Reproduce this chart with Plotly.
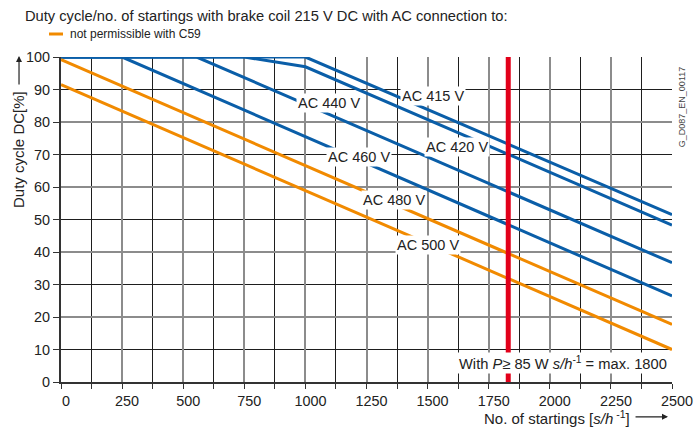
import plotly.graph_objects as go

# ---- data ----
x_ac415 = [0, 1000, 2500]
y_ac415 = [100, 100, 51.5]
x_ac420 = [0, 750, 1000, 2500]
y_ac420 = [100, 100, 97, 48.3]
x_ac440 = [0, 555, 2500]
y_ac440 = [100, 100, 36.7]
x_ac460 = [0, 250, 2500]
y_ac460 = [100, 100, 26.5]
x_ac480 = [0, 2500]
y_ac480 = [99.2, 17.7]
x_ac500 = [0, 2500]
y_ac500 = [91.5, 10]
limit_x = [1830, 1830]
limit_y = [0, 100]

curve_labels = ["AC 415 V", "AC 440 V", "AC 420 V", "AC 460 V", "AC 480 V", "AC 500 V"]
label_x = [1522, 1097, 1620, 1221, 1363, 1502]
label_y = [88.1, 85.8, 72.4, 69.3, 56.0, 42.2]

x_ticks = [0, 250, 500, 750, 1000, 1250, 1500, 1750, 2000, 2250, 2500]
y_ticks = [0, 10, 20, 30, 40, 50, 60, 70, 80, 90, 100]

BLUE = "#0a5ea8"
ORANGE = "#f18a00"
RED = "#e2001a"
FONT = "Arial, Liberation Sans, sans-serif"
TXT = "#222222"

fig = go.Figure()
series = [
    (x_ac415, y_ac415, BLUE), (x_ac420, y_ac420, BLUE), (x_ac440, y_ac440, BLUE),
    (x_ac460, y_ac460, BLUE), (x_ac480, y_ac480, ORANGE), (x_ac500, y_ac500, ORANGE),
]
for xs, ys, c in series:
    fig.add_trace(go.Scatter(x=xs, y=ys, mode="lines", line=dict(color=c, width=3),
                             showlegend=False, hoverinfo="skip"))
fig.add_trace(go.Scatter(x=limit_x, y=limit_y, mode="lines", line=dict(color=RED, width=5),
                         showlegend=False, hoverinfo="skip", yaxis="y2"))

for t, lx, ly in zip(curve_labels, label_x, label_y):
    fig.add_annotation(x=lx, y=ly, text=t, showarrow=False, bgcolor="white",
                       font=dict(family=FONT, size=14.5, color=TXT), borderpad=1)

fig.add_annotation(x=2054, y=5.9, text="With <i>P</i>≥ 85 W <i>s/h</i><sup>-1</sup> = max. 1800",
                   showarrow=False, bgcolor="white", borderpad=1,
                   font=dict(family=FONT, size=14.7, color=TXT))

LEG_Y = 1 + 23 / 325
# title & legend
fig.add_annotation(xref="paper", yref="paper", x=-0.063, y=1 + 41 / 325,
                   xanchor="left", yanchor="middle", showarrow=False,
                   text="Duty cycle/no. of startings with brake coil 215 V DC with AC connection to:",
                   font=dict(family=FONT, size=14.7, color=TXT))
fig.add_shape(type="line", xref="paper", yref="paper", x0=-0.0196, x1=0.0033, y0=LEG_Y, y1=LEG_Y,
              line=dict(color=ORANGE, width=3))
fig.add_annotation(xref="paper", yref="paper", x=0.0115, y=LEG_Y,
                   xanchor="left", yanchor="middle", showarrow=False,
                   text="not permissible with C59", font=dict(family=FONT, size=12, color=TXT))

# axis titles
fig.add_annotation(xref="paper", yref="paper", x=-0.0687, y=0.714, textangle=-90,
                   xanchor="center", yanchor="middle", showarrow=False,
                   text="Duty cycle DC[%]", font=dict(family=FONT, size=15, color=TXT))
fig.add_annotation(xref="paper", yref="paper", x=-0.0687, y=1.003, ax=0, ay=30,
                   showarrow=True, arrowhead=2, arrowsize=1, arrowwidth=1.2, arrowcolor=TXT, text="")
fig.add_annotation(xref="paper", yref="paper", x=0.935, y=-0.11,
                   xanchor="right", yanchor="middle", showarrow=False,
                   text="No. of startings [<i>s/h</i><sup> -1</sup>]",
                   font=dict(family=FONT, size=15, color=TXT))
fig.add_annotation(xref="paper", yref="paper", x=0.9935, y=-0.107, ax=-34, ay=0,
                   showarrow=True, arrowhead=2, arrowsize=1, arrowwidth=1.2, arrowcolor=TXT, text="")
fig.add_annotation(xref="paper", yref="paper", x=1.004, y=0.847, textangle=-90,
                   xanchor="left", yanchor="middle", showarrow=False,
                   text="G_D087_EN_00117", font=dict(family=FONT, size=9, color="#444"))

fig.update_layout(
    width=695, height=427, autosize=False,
    margin=dict(l=61, r=23, t=57, b=45, pad=0, autoexpand=False),
    paper_bgcolor="white", plot_bgcolor="white",
    font=dict(family=FONT, size=14, color=TXT),
    xaxis=dict(range=[0, 2500], tickvals=x_ticks, ticktext=[str(v) for v in x_ticks],
               ticklabelshift=5, automargin=False,
               showgrid=True, gridcolor="#8c8c8c", gridwidth=2,
               minor=dict(dtick=125, tick0=0, showgrid=True, gridcolor="#1e1e1e", gridwidth=1.2,
                          ticks="outside", ticklen=5, tickcolor="#333"),
               ticks="outside", ticklen=5, tickcolor="#333",
               showline=True, linecolor="#333", linewidth=2, zeroline=False,
               tickfont=dict(family=FONT, size=14.4, color=TXT)),
    yaxis=dict(range=[0, 100], dtick=20, tick0=0, showticklabels=False, automargin=False,
               showgrid=True, gridcolor="#8c8c8c", gridwidth=2,
               minor=dict(dtick=10, tick0=0, showgrid=True, gridcolor="#1e1e1e", gridwidth=1.2),
               zeroline=False, showline=False),
    yaxis2=dict(range=[0, 100], overlaying="y", side="left", tickvals=y_ticks, automargin=False,
                ticktext=[str(v) for v in y_ticks], showgrid=False, zeroline=False,
                ticks="outside", ticklen=6, tickcolor="#333",
                showline=True, linecolor="#333", linewidth=2,
                tickfont=dict(family=FONT, size=14.4, color=TXT)),
)

fig.write_html("out.html", config={"displayModeBar": False, "responsive": False},
               post_script="document.body.style.margin='0';document.body.style.padding='0';")
